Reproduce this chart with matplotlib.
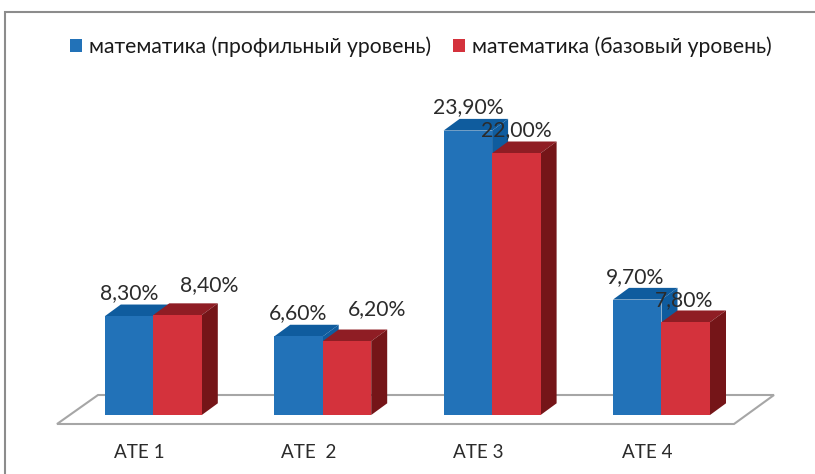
import matplotlib
matplotlib.use('Agg')
import matplotlib.pyplot as plt
from matplotlib.patches import Rectangle

plt.rcParams['font.family'] = ['Lato', 'Open Sans', 'DejaVu Sans']

categories = ['АТЕ 1', 'АТЕ  2', 'АТЕ 3', 'АТЕ 4']
profile_values = [8.3, 6.6, 23.9, 9.7]
base_values = [8.4, 6.2, 22.0, 7.8]
profile_labels = ['8,30%', '6,60%', '23,90%', '9,70%']
base_labels = ['8,40%', '6,20%', '22,00%', '7,80%']
series_names = ['математика (профильный уровень)', 'математика (базовый уровень)']

W, H = 815, 474
X0, STEP = 153.3, 169.4   # pixel of first category, pixels per category
Y0, UNIT = 415, 11.9      # pixel of zero, pixels per percent
BAR_W = 48.5 / STEP
DX = 16 / STEP            # 3d depth
DY = 11.7 / UNIT

BLUE, BLUE_DARK = '#2272b8', '#0f5c9e'
RED, RED_TOP, RED_SIDE = '#d4323c', '#8f1d24', '#751518'
TEXT = '#2b2b2b'


def px(x, y):
    """Pixel position in the reference to data coordinates"""
    return (x - X0) / STEP, (Y0 - y) / UNIT


def draw_depth(left, height, top_color, side_color):
    right = left + BAR_W
    ax.fill([left, left + DX, right + DX, right],
            [height, height + DY, height + DY, height], color=top_color, lw=0, zorder=3)
    ax.fill([right, right + DX, right + DX, right],
            [0, DY, height + DY, height], color=side_color, lw=0, zorder=3)


fig = plt.figure(figsize=(W / 100, H / 100), dpi=100)
ax = fig.add_axes([0, 0, 1, 1])
ax.set_xlim(-X0 / STEP, (W - X0) / STEP)
ax.set_ylim((Y0 - H) / UNIT, Y0 / UNIT)
ax.axis('off')

# Frame around the chart
fig.add_artist(Rectangle((5 / W, -0.02), 860 / W, 1.02 - 12 / H, transform=fig.transFigure,
                         fill=False, ec='#8c8c8c', lw=1.5))

# Floor
floor = [px(57, 424), px(98, 395), px(774, 395), px(734, 424)]
ax.fill([p[0] for p in floor], [p[1] for p in floor], fc='white', ec='#a6a6a6', lw=1.5, zorder=1)

positions = range(len(categories))
for i in positions:
    draw_depth(i - BAR_W, profile_values[i], BLUE_DARK, BLUE_DARK)
blue_bars = ax.bar([i - BAR_W / 2 for i in positions], profile_values, BAR_W, color=BLUE, zorder=4,
                   label=series_names[0])
for i in positions:
    draw_depth(i, base_values[i], RED_TOP, RED_SIDE)
red_bars = ax.bar([i + BAR_W / 2 for i in positions], base_values, BAR_W, color=RED, zorder=5,
                  label=series_names[1])

# Value labels
profile_offsets = [(-24, 1), (-25, 2), (-24, 2), (-26, 1)]
base_offsets = [(56, 8), (54, 10), (24, 1), (23, 0)]
for i in positions:
    ax.annotate(profile_labels[i], (i, profile_values[i] + DY), xytext=profile_offsets[i],
                textcoords='offset pixels', ha='center', va='bottom', fontsize=15.2, color=TEXT, zorder=6)
    ax.annotate(base_labels[i], (i, base_values[i] + DY), xytext=base_offsets[i],
                textcoords='offset pixels', ha='center', va='bottom', fontsize=15.2, color=TEXT, zorder=6)

# Category labels
for i in positions:
    xp, yp = px(X0 + STEP * i - 14, 452)
    ax.text(xp, yp, categories[i], ha='center', va='center', fontsize=13.6, color=TEXT)

legend = ax.legend(handles=[blue_bars, red_bars], loc='center', bbox_to_anchor=(421 / W, 1 - 47 / H),
                   ncol=2, frameon=False, fontsize=15.2, labelcolor='#1a1a1a', handlelength=0.55,
                   handleheight=0.55, handletextpad=0.35, columnspacing=1.05, borderpad=0)

plt.savefig('out.png', dpi=100)
plt.close(fig)
